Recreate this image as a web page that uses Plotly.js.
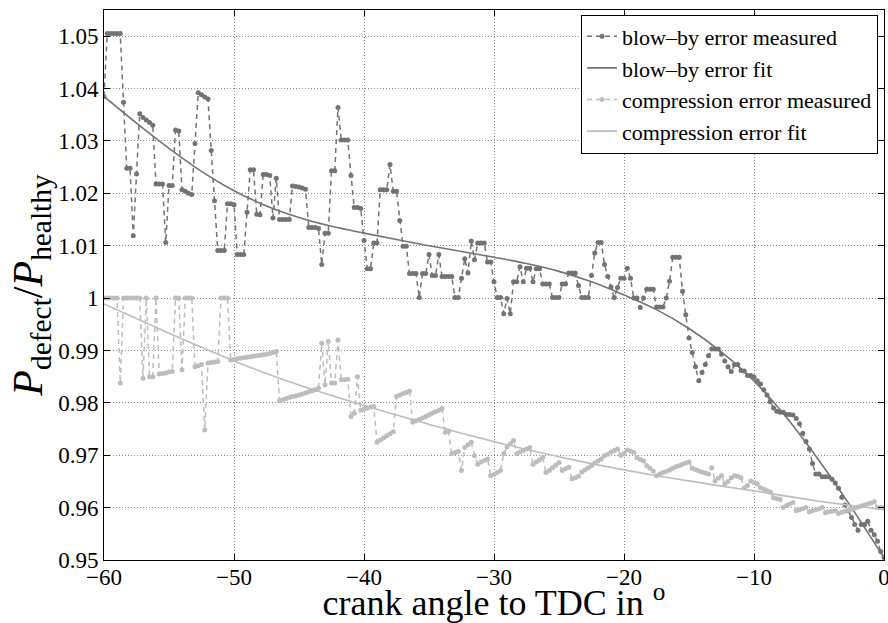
<!DOCTYPE html>
<html><head><meta charset="utf-8">
<script src="https://cdn.plot.ly/plotly-3.0.1.min.js"></script>
<style>html,body{margin:0;padding:0;background:#fff}#chart{width:888px;height:623px}</style>
</head><body><div id="chart"></div>
<script>
// crank angle grid of the measured series (degrees before TDC)
const angle = [
-60,-59.75,-59.5,-59.25,-59,-58.75,-58.5,-58.25,-58,-57.75,-57.5,-57.25,-57,-56.75,-56.5,-56.25,-56,-55.75,-55.5,-55.25,
-55,-54.75,-54.5,-54.25,-54,-53.75,-53.5,-53.25,-53,-52.75,-52.5,-52.25,-52,-51.75,-51.5,-51.25,-51,-50.75,-50.5,-50.25,
-50,-49.75,-49.5,-49.25,-49,-48.75,-48.5,-48.25,-48,-47.75,-47.5,-47.25,-47,-46.75,-46.5,-46.25,-46,-45.75,-45.5,-45.25,
-45,-44.75,-44.5,-44.25,-44,-43.75,-43.5,-43.25,-43,-42.75,-42.5,-42.25,-42,-41.75,-41.5,-41.25,-41,-40.75,-40.5,-40.25,
-40,-39.75,-39.5,-39.25,-39,-38.75,-38.5,-38.25,-38,-37.75,-37.5,-37.25,-37,-36.75,-36.5,-36.25,-36,-35.75,-35.5,-35.25,
-35,-34.75,-34.5,-34.25,-34,-33.75,-33.5,-33.25,-33,-32.75,-32.5,-32.25,-32,-31.75,-31.5,-31.25,-31,-30.75,-30.5,-30.25,
-30,-29.75,-29.5,-29.25,-29,-28.75,-28.5,-28.25,-28,-27.75,-27.5,-27.25,-27,-26.75,-26.5,-26.25,-26,-25.75,-25.5,-25.25,
-25,-24.75,-24.5,-24.25,-24,-23.75,-23.5,-23.25,-23,-22.75,-22.5,-22.25,-22,-21.75,-21.5,-21.25,-21,-20.75,-20.5,-20.25,
-20,-19.75,-19.5,-19.25,-19,-18.75,-18.5,-18.25,-18,-17.75,-17.5,-17.25,-17,-16.75,-16.5,-16.25,-16,-15.75,-15.5,-15.25,
-15,-14.75,-14.5,-14.25,-14,-13.75,-13.5,-13.25,-13,-12.75,-12.5,-12.25,-12,-11.75,-11.5,-11.25,-11,-10.75,-10.5,-10.25,
-10,-9.75,-9.5,-9.25,-9,-8.75,-8.5,-8.25,-8,-7.75,-7.5,-7.25,-7,-6.75,-6.5,-6.25,-6,-5.75,-5.5,-5.25,
-5,-4.75,-4.5,-4.25,-4,-3.75,-3.5,-3.25,-3,-2.75,-2.5,-2.25,-2,-1.75,-1.5,-1.25,-1,-0.75,-0.5,-0.25,
0];

const blowbyMeasured = [
1.0385,1.0505,1.0505,1.0505, 1.0505,1.0505,1.0374,1.0248, 1.0248,1.0119,1.0237,1.0352, 1.0345,1.0340,1.0335,1.0330, 1.0218,1.0218,1.0218,1.0106,
1.0215,1.0215,1.0321,1.0319, 1.0207,1.0204,1.0200,1.0198, 1.0295,1.0392,1.0388,1.0384, 1.0380,1.0282,1.0186,1.0091, 1.0091,1.0091,1.0180,1.0180,
1.0178,1.0083,1.0083,1.0083, 1.0164,1.0245,1.0245,1.0160, 1.0159,1.0236,1.0236,1.0234, 1.0153,1.0229,1.0150,1.0150, 1.0150,1.0150,1.0214,1.0213,
1.0212,1.0210,1.0208,1.0135, 1.0135,1.0135,1.0133,1.0064, 1.0124,1.0124,1.0243,1.0243, 1.0364,1.0302,1.0302,1.0302, 1.0234,1.0173,1.0173,1.0171,
1.0110,1.0056,1.0056,1.0105, 1.0105,1.0207,1.0207,1.0207, 1.0255,1.0204,1.0204,1.0148, 1.0099,1.0099,1.0047,1.0047, 1.0047,1.0001,1.0047,1.0047,
1.0083,1.0043,1.0043,1.0083, 1.0041,1.0041,1.0041,1.0041, 1.0001,1.0001,1.0038,1.0075, 1.0048,1.0109,1.0073,1.0105, 1.0105,1.0105,1.0069,1.0069,
1.0031,1.0001,1.0001,0.9970, 0.9999,0.9970,1.0031,1.0031, 1.0060,1.0031,1.0057,1.0057, 1.0031,1.0056,1.0056,1.0027, 1.0027,1.0027,1.0001,1.0001,
1.0001,1.0027,1.0027,1.0048, 1.0048,1.0048,1.0024,1.0001, 1.0001,1.0001,1.0043,1.0086, 1.0106,1.0106,1.0064,1.0041, 1.0021,1.0001,1.0020,1.0038,
1.0038,1.0057,1.0038,1.0000, 1.0000,0.9982,1.0000,1.0017, 1.0017,1.0017,0.9983,0.9983, 0.9983,1.0000,1.0032,1.0078, 1.0078,1.0078,1.0013,0.9968,
0.9924,0.9896,0.9869,0.9842, 0.9858,0.9873,0.9890,0.9903, 0.9903,0.9903,0.9893,0.9880, 0.9869,0.9860,0.9873,0.9873, 0.9862,0.9861,0.9852,0.9852,
0.9850,0.9842,0.9836,0.9825, 0.9815,0.9802,0.9790,0.9784, 0.9782,0.9782,0.9778,0.9778, 0.9777,0.9770,0.9760,0.9742, 0.9726,0.9712,0.9684,0.9664,
0.9664,0.9659,0.9659,0.9659, 0.9654,0.9647,0.9637,0.9620, 0.9605,0.9594,0.9581,0.9568, 0.9557,0.9568,0.9568,0.9574, 0.9557,0.9548,0.9536,0.9516,
0.9505];

const compressionMeasured = [
1.0000,1.0000,1.0000,1.0000, 1.0000,0.9838,1.0000,1.0000, 1.0000,1.0000,1.0000,1.0000, 0.9847,1.0000,0.9850,0.9850, 1.0000,0.9855,0.9856,0.9857,
0.9859,0.9860,1.0000,1.0000, 0.9863,1.0000,1.0000,1.0000, 0.9869,0.9871,0.9873,0.9748, 0.9876,0.9877,0.9878,0.9879, 1.0000,1.0000,1.0000,0.9882,
0.9883,0.9884,0.9885,0.9886, 0.9887,0.9888,0.9889,0.9890, 0.9891,0.9892,0.9893,0.9894, 0.9896,0.9898,0.9804,0.9806, 0.9808,0.9810,0.9812,0.9813,
0.9815,0.9817,0.9819,0.9821, 0.9823,0.9825,0.9828,0.9914, 0.9834,0.9917,0.9838,0.9838, 0.9920,0.9844,0.9844,0.9845, 0.9774,0.9780,0.9850,0.9786,
0.9788,0.9790,0.9792,0.9793, 0.9725,0.9729,0.9733,0.9737, 0.9741,0.9745,0.9812,0.9815, 0.9818,0.9820,0.9822,0.9763, 0.9766,0.9768,0.9771,0.9774,
0.9777,0.9780,0.9783,0.9786, 0.9789,0.9744,0.9746,0.9703, 0.9705,0.9707,0.9671,0.9715, 0.9720,0.9725,0.9699,0.9683, 0.9687,0.9690,0.9693,0.9661,
0.9663,0.9667,0.9671,0.9703, 0.9716,0.9722,0.9728,0.9703, 0.9706,0.9709,0.9712,0.9715, 0.9683,0.9687,0.9691,0.9696, 0.9667,0.9671,0.9676,0.9681,
0.9686,0.9671,0.9674,0.9677, 0.9655,0.9657,0.9660,0.9668, 0.9672,0.9676,0.9680,0.9685, 0.9689,0.9693,0.9699,0.9702, 0.9706,0.9709,0.9712,0.9700,
0.9703,0.9710,0.9708,0.9705, 0.9695,0.9692,0.9689,0.9680, 0.9675,0.9670,0.9661,0.9664, 0.9667,0.9669,0.9672,0.9675, 0.9678,0.9680,0.9683,0.9685,
0.9687,0.9675,0.9673,0.9670, 0.9668,0.9666,0.9664,0.9676, 0.9651,0.9656,0.9661,0.9645, 0.9650,0.9657,0.9661,0.9660, 0.9657,0.9638,0.9642,0.9651,
0.9648,0.9645,0.9638,0.9635, 0.9632,0.9630,0.9619,0.9617, 0.9616,0.9600,0.9604,0.9607, 0.9610,0.9594,0.9596,0.9598, 0.9600,0.9592,0.9594,0.9596,
0.9598,0.9600,0.9590,0.9592, 0.9593,0.9594,0.9589,0.9591, 0.9593,0.9595,0.9597,0.9599, 0.9601,0.9603,0.9605,0.9607, 0.9609,0.9611,0.9600,0.9600,
0.9600];

// fitted curves read at 2.5 degree spacing
const fitAngle = [-60,-57.5,-55,-52.5,-50,-47.5,-45,-42.5,-40,-37.5,-35,-32.5,-30,-27.5,-25,-22.5,-20,-17.5,-15,-12.5,-10,-7.5,-5,-2.5,0];
const blowbyFit = [1.0385,1.0334,1.0286,1.0242,1.0205,1.0176,1.0154,1.0137,1.0124,1.0112,1.0100,1.0089,1.0078,1.0066,1.0051,1.0031,1.0006,0.9978,0.9942,0.9897,0.9842,0.9772,0.9690,0.9600,0.9504];
const compressionFit = [0.9989,0.9961,0.9933,0.9906,0.9880,0.9856,0.9834,0.9814,0.9795,0.9777,0.9759,0.9742,0.9726,0.9711,0.9697,0.9684,0.9672,0.9661,0.9651,0.9641,0.9632,0.9622,0.9612,0.9604,0.9596];

const seriesNames = ['blow–by error measured','blow–by error fit','compression error measured','compression error fit'];
const xTickVals = [-60,-50,-40,-30,-20,-10,0];
const xTickText = ['−60','−50','−40','−30','−20','−10','0'];
const yTickVals = [0.95,0.96,0.97,0.98,0.99,1.00,1.01,1.02,1.03,1.04,1.05];
const yTickText = ['0.95','0.96','0.97','0.98','0.99','1','1.01','1.02','1.03','1.04','1.05'];

const dark = '#737373';
const light = '#bdbdbd';
const serif = 'Liberation Serif, Times New Roman, serif';

const traces = [
  {x: angle, y: blowbyMeasured, name: seriesNames[0], mode: 'lines+markers',
   line: {color: dark, width: 1.5, dash: '5px,4px'}, marker: {color: dark, size: 5}},
  {x: fitAngle, y: blowbyFit, name: seriesNames[1], mode: 'lines',
   line: {color: dark, width: 1.6, shape: 'spline', smoothing: 1}},
  {x: angle, y: compressionMeasured, name: seriesNames[2], mode: 'lines+markers',
   line: {color: light, width: 1.5, dash: '5px,4px'}, marker: {color: light, size: 5}},
  {x: fitAngle, y: compressionFit, name: seriesNames[3], mode: 'lines',
   line: {color: light, width: 1.6, shape: 'spline', smoothing: 1}}
];

const axisCommon = {
  showline: true, linecolor: '#000', linewidth: 1, mirror: 'ticks',
  ticks: 'inside', ticklen: 6, tickcolor: '#000', tickwidth: 1,
  showgrid: true, gridcolor: '#8a8a8a', griddash: '1px,2px', gridwidth: 1,
  zeroline: false, tickfont: {family: serif, size: 23, color: '#000'},
  ticklabeloverflow: 'allow'
};

const layout = {
  width: 888, height: 623,
  margin: {l: 104, r: 4, t: 10, b: 63},
  paper_bgcolor: '#fff', plot_bgcolor: '#fff',
  font: {family: serif, color: '#000'},
  showlegend: true,
  legend: {x: 0.9923, y: 0.9918, xanchor: 'right', yanchor: 'top',
    bgcolor: '#fff', bordercolor: '#000', borderwidth: 1,
    font: {family: serif, size: 22, color: '#000'}, tracegroupgap: 0},
  xaxis: Object.assign({}, axisCommon, {
    range: [-60, 0], tickmode: 'array', tickvals: xTickVals, ticktext: xTickText,
    ticklabelstandoff: -4,
    title: {text: 'crank angle to TDC in <sup>o</sup>', font: {family: serif, size: 36, color: '#000'}, standoff: 13}
  }),
  yaxis: Object.assign({}, axisCommon, {
    range: [0.95, 1.055], tickmode: 'array', tickvals: yTickVals, ticktext: yTickText,
    title: {text: '<i>P</i><sub>defect</sub>/<i>P</i><sub>healthy</sub>', font: {family: serif, size: 42, color: '#000'}, standoff: 2}
  })
};

Plotly.newPlot('chart', traces, layout, {displayModeBar: false, staticPlot: true});
</script>
</body></html>
